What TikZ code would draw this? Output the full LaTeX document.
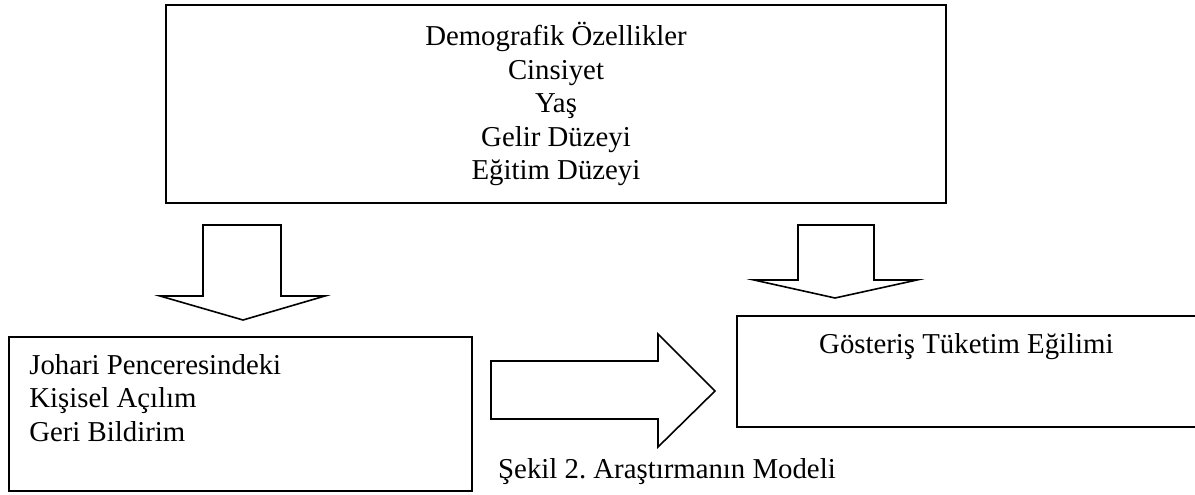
\documentclass[tikz,border=0pt]{standalone}
\usepackage{fontspec}
\setmainfont{Liberation Serif}
\usetikzlibrary{positioning}
\frenchspacing

\begin{document}
\begin{tikzpicture}[x=1pt,y=-1pt,
  every node/.style={font=\fontsize{28.8}{33.5}\selectfont},
  box/.style={draw, line width=1.8pt, inner sep=0pt},
  blockarrow/.style={draw, line width=1.6pt, line join=miter}]
  \useasboundingbox (0,0) rectangle (1195,495);

  \node[box, minimum width=780pt, minimum height=198pt, align=center] (demo) at (556,104) {Demografik Özellikler\\Cinsiyet\\Yaş\\Gelir Düzeyi\\Eğitim Düzeyi};
  \node[box, minimum width=463pt, minimum height=154pt] (johari) at (240.5,414) {};
  \node[align=left, inner sep=0pt, below right=18pt and 21pt of johari.north west] (joharitext) {Johari Penceresindeki\\Kişisel Açılım\\Geri Bildirim};
  \node[box, minimum width=470pt, minimum height=111pt] (tuketim) at (972,371.5) {};
  \node[inner sep=0pt, anchor=base west] (tuketimtext) at (819,353) {Gösteriş Tüketim Eğilimi};
  \node[inner sep=0pt, anchor=base west] (caption) at (498,478) {Şekil 2. Araştırmanın Modeli};

  % block arrows
  \draw[blockarrow] (203,225) -- (281,225) -- (281,296) -- (325,296) -- (243,320) -- (160,296) -- (203,296) -- cycle;
  \draw[blockarrow] (798,225) -- (874,225) -- (874,280) -- (917,280) -- (835,298) -- (754,280) -- (798,280) -- cycle;
  \draw[blockarrow] (491,361) -- (658,361) -- (658,334) -- (715,391) -- (658,447) -- (658,419) -- (491,419) -- cycle;
\end{tikzpicture}
\end{document}
